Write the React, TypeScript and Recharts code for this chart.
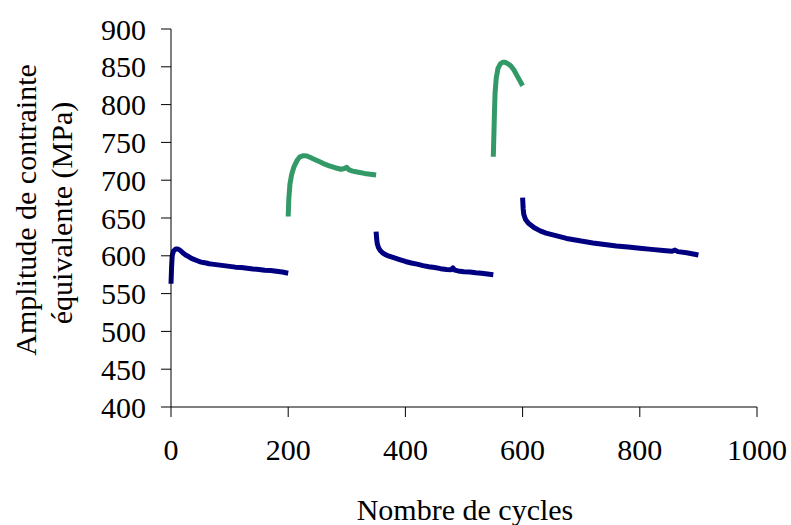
import { LineChart, Line, XAxis, YAxis, Label } from "recharts"

// cycle 0-200, first block (blue)
const block1Cycles = [0, 1, 2, 4, 8, 12, 16, 20, 25, 30, 35, 40, 45, 50, 55, 60, 65, 70, 80, 90, 100, 110, 120, 130, 140, 150, 160, 170, 180, 190, 200]
const block1Values = [563, 585, 600, 606, 609, 609, 607, 604, 601, 599, 596.5, 595, 593.5, 592, 591, 590.5, 589.5, 589, 588, 587, 586, 585, 584.5, 583.5, 582.5, 582, 581, 580.5, 579.5, 578.5, 577]

// cycle 200-350, overload block (green)
const block2Cycles = [200, 201, 203, 206, 210, 215, 220, 226, 232, 238, 245, 252, 260, 270, 280, 290, 296, 300, 304, 310, 320, 330, 340, 350]
const block2Values = [652, 675, 695, 708, 718, 726, 731, 732.5, 732, 730, 727.5, 725, 722, 719, 716.5, 714.5, 715.5, 717, 713.5, 712, 710.5, 709, 708, 707]

// cycle 350-550 (blue)
const block3Cycles = [350, 351, 352, 354, 357, 361, 366, 372, 380, 390, 400, 410, 420, 430, 440, 450, 460, 470, 478, 481, 484, 490, 500, 510, 520, 530, 540, 550]
const block3Values = [632, 622, 616, 611, 607, 604, 601.5, 599.5, 597.5, 595, 592.5, 590.5, 589, 587, 585.5, 584.5, 583, 582, 581.5, 584, 581, 580, 579, 578.5, 577.5, 577, 576, 575]

// cycle 550-600 (green)
const block4Cycles = [550, 551, 552, 553, 555, 558, 562, 566, 570, 575, 580, 585, 590, 595, 600]
const block4Values = [731, 760, 790, 815, 835, 848, 854, 856, 856, 854, 851, 846, 839, 832, 825]

// cycle 600-900 (blue)
const block5Cycles = [600, 601, 602, 605, 610, 615, 620, 630, 640, 650, 660, 675, 690, 700, 720, 740, 760, 780, 800, 820, 840, 855, 860, 865, 880, 900]
const block5Values = [677, 662, 655, 648, 643, 640, 637, 633, 630, 628, 626, 623, 621, 619.5, 617, 615, 613, 611.5, 610, 608.5, 607, 606, 607.5, 605.5, 604, 601]

const xTicks = [0, 200, 400, 600, 800, 1000]
const yTicks = [400, 450, 500, 550, 600, 650, 700, 750, 800, 850, 900]

const toRows = (cycles: number[], values: number[]) => cycles.map((c, i) => ({ cycle: c, amp: values[i] }))

const blocks = [
  { key: "b1", rows: toRows(block1Cycles, block1Values), color: "#000080" },
  { key: "b2", rows: toRows(block2Cycles, block2Values), color: "#339966" },
  { key: "b3", rows: toRows(block3Cycles, block3Values), color: "#000080" },
  { key: "b4", rows: toRows(block4Cycles, block4Values), color: "#339966" },
  { key: "b5", rows: toRows(block5Cycles, block5Values), color: "#000080" },
]

const font = "Liberation Serif, Times New Roman, DejaVu Serif, serif"
const tickStyle = { fontSize: 30, fill: "#000", style: { fontFamily: font } }

function YTitle() {
  return (
    <g style={{ fontFamily: font }} fontSize={30} fill="#000">
      <text transform="translate(36, 210) rotate(-90)" textAnchor="middle">Amplitude de contrainte</text>
      <text transform="translate(72, 213) rotate(-90)" textAnchor="middle">équivalente (MPa)</text>
    </g>
  )
}

export default function App() {
  return (
    <div style={{ position: "absolute", left: 0, top: 0, width: 791, height: 525, background: "#fff", fontFamily: font }}>
      <LineChart width={791} height={525} margin={{ top: 29, right: 34, bottom: 88, left: 91 }} style={{ fontFamily: font }}>
        <XAxis
          dataKey="cycle"
          type="number"
          domain={[0, 1000]}
          ticks={xTicks}
          allowDuplicatedCategory={false}
          height={30}
          tickSize={10}
          tickMargin={22}
          tick={tickStyle}
          stroke="#000"
          axisLine={{ stroke: "#000" }}
          tickLine={{ stroke: "#000" }}
        >
          <Label
            content={() => (
              <text x={465} y={520} textAnchor="middle" style={{ fontFamily: font }} fontSize={30} fill="#000">
                Nombre de cycles
              </text>
            )}
          />
        </XAxis>
        <YAxis
          dataKey="amp"
          type="number"
          domain={[400, 900]}
          ticks={yTicks}
          width={80}
          tickSize={10}
          tickMargin={15}
          tick={tickStyle}
          stroke="#000"
          axisLine={{ stroke: "#000" }}
          tickLine={{ stroke: "#000" }}
          interval={0}
        >
          <Label content={() => <YTitle />} />
        </YAxis>
        {blocks.map((b) => (
          <Line
            key={b.key}
            data={b.rows}
            dataKey="amp"
            type="linear"
            stroke={b.color}
            strokeWidth={5}
            strokeLinejoin="round"
            dot={false}
            isAnimationActive={false}
          />
        ))}
      </LineChart>
    </div>
  )
}
